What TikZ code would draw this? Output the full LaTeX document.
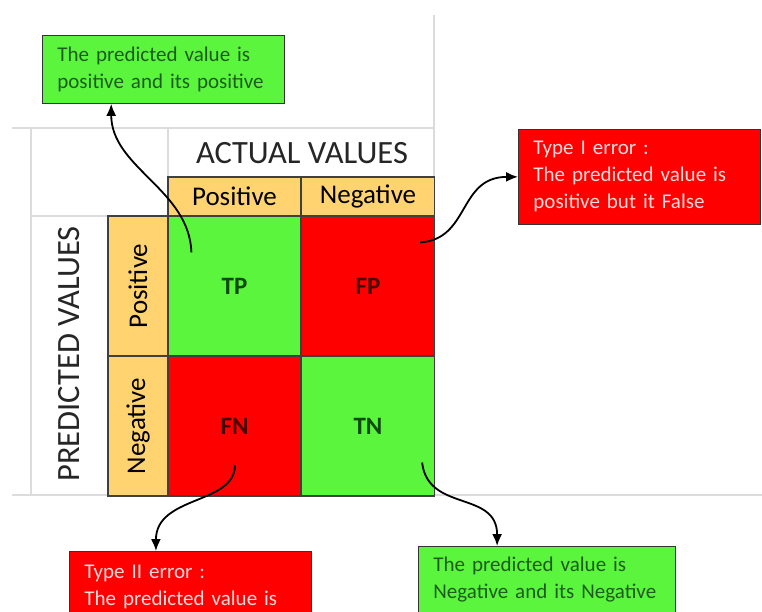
\documentclass[tikz,border=0pt]{standalone}
\usepackage{fontspec}
\setmainfont{Carlito}
\usetikzlibrary{arrows.meta}
\usetikzlibrary{calc}
\usepackage{xcolor}
\definecolor{cellgreen}{HTML}{5AF53C}
\definecolor{cellred}{HTML}{FF0000}
\definecolor{headyellow}{HTML}{FFD470}
\definecolor{gridgray}{HTML}{DCDCDC}
\definecolor{greentext}{HTML}{1E5C1E}
\definecolor{redtext}{HTML}{FFDCDC}
\definecolor{tpdark}{HTML}{0E4A0E}
\definecolor{fpdark}{HTML}{4A0000}

\begin{document}
\begin{tikzpicture}[>={Latex[length=12pt,width=10pt]}, x=1pt, y=-1pt,
  cell/.style={draw=black!75, line width=1.2pt, minimum width=133pt,
    minimum height=140pt, inner sep=0pt, font=\fontsize{25}{30}\selectfont\bfseries},
  head/.style={draw=black!75, line width=1.2pt, fill=headyellow, inner sep=0pt,
    font=\fontsize{27}{32}\selectfont},
  callout/.style={draw=black!80, line width=0.8pt, anchor=north west,
    inner xsep=15pt, inner ysep=0pt, text width=212pt, align=left,
    font=\fontsize{21}{27}\selectfont},
  link/.style={->, line width=1.8pt}]

  \useasboundingbox (0,0) rectangle (762,612);
  \clip (0,0) rectangle (762,612);

  % table grid
  \draw [gridgray, line width=1.5pt] (12,128) -- (434,128);
  \draw [gridgray, line width=1.5pt] (434,15) -- (434,177);
  \draw [gridgray, line width=1.5pt] (168,128) -- (168,177);
  \draw [gridgray, line width=1.5pt] (31,128) -- (31,495);
  \draw [gridgray, line width=1.5pt] (31,216) -- (108,216);
  \draw [gridgray, line width=1.5pt] (12,495) -- (762,495);

  \node [text=black!85, font=\fontsize{32.5}{36}\selectfont] (actual) at (302,153)
  {ACTUAL VALUES};
  \node [text=black!85, font=\fontsize{32.5}{36}\selectfont, rotate=90] (predicted)
  at (69,354) {PREDICTED VALUES};

  \node [head, minimum width=133pt, minimum height=39pt] (apos) at (234.5,196.5) {Positive};
  \node [head, minimum width=133pt, minimum height=39pt] (aneg) at (368,196.5) {Negative};
  \node [head, rotate=90, minimum width=140pt, minimum height=60pt] (ppos) at (138,286) {Positive};
  \node [head, rotate=90, minimum width=140pt, minimum height=60pt] (pneg) at (138,426) {Negative};

  \node [cell, fill=cellgreen, text=tpdark] (tp) at (234.5,286) {TP};
  \node [cell, fill=cellred, text=fpdark] (fp) at (368,286) {FP};
  \node [cell, fill=cellred, text=fpdark] (fn) at (234.5,426) {FN};
  \node [cell, fill=cellgreen, text=tpdark] (tn) at (368,426) {TN};

  % callouts
  \node [callout, fill=cellgreen, text=greentext, minimum height=68pt] (tpbox) at (42,35)
  {The predicted value is\\positive and its positive};
  \node [callout, fill=cellred, text=redtext, minimum height=95pt] (fpbox) at (518,129)
  {Type I error :\\The predicted value is\\positive but it False};
  \node [callout, fill=cellred, text=redtext, minimum height=72pt] (fnbox) at (69,551)
  {Type II error :\\The predicted value is};
  \node [callout, fill=cellgreen, text=greentext, text width=227pt, minimum height=67pt]
  (tnbox) at (418,546) {The predicted value is\\Negative and its Negative};

  \coordinate (tpfrom) at ($(tp.north west)+(24,37)$);
  \coordinate (fpfrom) at ($(fp.north east)+(-15,27)$);
  \coordinate (fnfrom) at ($(fn.center)+(0.5,39)$);
  \coordinate (tnfrom) at ($(tn.south east)+(-13,-34)$);

  \draw [link] (tpfrom) .. controls +(-2,-63) and +(0,64) ..
  ($(tpbox.south west)!0.285!(tpbox.south east)$);
  \draw [link] (fpfrom) .. controls +(50,-3) and +(-60,0) .. (fpbox.west);
  \draw [link] (fnfrom) .. controls +(0,40) and +(0,-56) ..
  ($(fnbox.north west)!0.358!(fnbox.north east)$);
  \draw [link] (tnfrom) .. controls +(6,50) and +(0,-56) ..
  ($(tnbox.north west)!0.307!(tnbox.north east)$);

\end{tikzpicture}
\end{document}
